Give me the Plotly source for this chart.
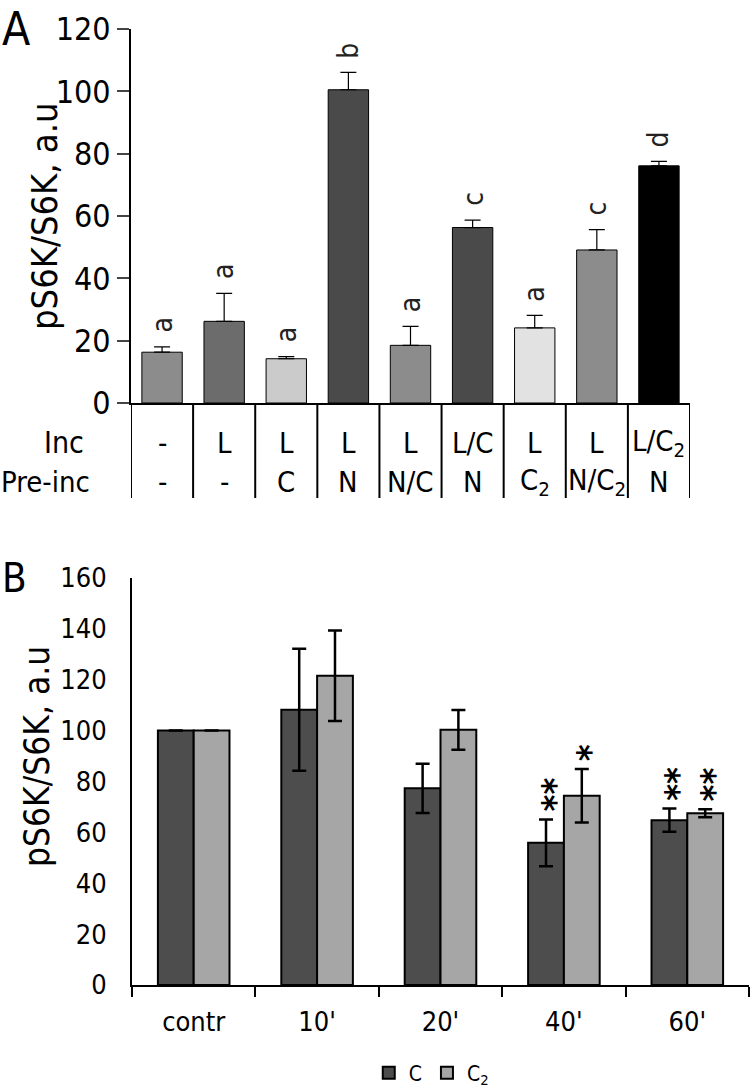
import plotly.graph_objects as go

# ---------- Panel A data ----------
a_inc = ["-", "L", "L", "L", "L", "L/C", "L", "L", "L/C<sub>2</sub>"]
a_pre = ["-", "-", "C", "N", "N/C", "N", "C<sub>2</sub>", "N/C<sub>2</sub>", "N"]
a_vals = [16.3, 26.2, 14.2, 100.5, 18.5, 56.3, 24.1, 49.1, 76.1]
a_err = [1.7, 9.0, 0.7, 5.6, 6.1, 2.4, 4.0, 6.5, 1.4]
a_letters = ["a", "a", "a", "b", "a", "c", "a", "c", "d"]
a_colors = ["#8c8c8c", "#6c6c6c", "#cbcbcb", "#4a4a4a", "#8c8c8c",
            "#4a4a4a", "#e2e2e2", "#8c8c8c", "#000000"]
a_yticks = [0, 20, 40, 60, 80, 100, 120]

# ---------- Panel B data ----------
b_cats = ["contr", "10'", "20'", "40'", "60'"]
b_c = [100, 108.2, 77.3, 55.9, 64.8]
b_c_err = [None, 24.0, 9.7, 9.2, 4.6]
b_c2 = [100, 121.6, 100.3, 74.4, 67.5]
b_c2_err = [None, 17.8, 7.8, 10.5, 1.6]
b_c_sig = ["", "", "", "**", "**"]
b_c2_sig = ["", "", "", "*", "**"]
b_yticks = [0, 20, 40, 60, 80, 100, 120, 140, 160]

FONT = "DejaVu Sans Condensed, DejaVu Sans, sans-serif"
W, H = 750, 1090


def py(px):
    return 1 - px / H


fig = go.Figure()

ax_idx = list(range(len(a_vals)))
fig.add_trace(go.Bar(
    x=ax_idx, y=a_vals, width=0.65,
    marker=dict(color=a_colors, line=dict(color="black", width=1)),
    error_y=dict(type="data", array=a_err, arrayminus=[0] * len(a_err),
                 symmetric=False, color="black", thickness=1.2, width=8),
    xaxis="x", yaxis="y", showlegend=False,
))

fig.add_trace(go.Bar(
    x=b_cats, y=b_c, name="C", width=0.29, offset=-0.29,
    marker=dict(color="#4d4d4d", line=dict(color="black", width=2)),
    error_y=dict(type="data", array=b_c_err, color="black", thickness=2.5, width=7),
    xaxis="x2", yaxis="y2",
))
fig.add_trace(go.Bar(
    x=b_cats, y=b_c2, name="C<sub>2</sub>", width=0.29, offset=0,
    marker=dict(color="#a6a6a6", line=dict(color="black", width=2)),
    error_y=dict(type="data", array=b_c2_err, color="black", thickness=2.5, width=7),
    xaxis="x2", yaxis="y2",
))

annotations = []
shapes = []

# letters above A bars
for i, (v, e, t) in enumerate(zip(a_vals, a_err, a_letters)):
    annotations.append(dict(x=i, y=v + e, xref="x", yref="y", text=t, showarrow=False,
                            textangle=-90, xanchor="center", yanchor="bottom", yshift=12,
                            font=dict(family=FONT, size=28, color="#222")))

# table under A
for i in range(len(a_vals) + 1):
    shapes.append(dict(type="line", xref="x", yref="paper", x0=i - 0.5, x1=i - 0.5,
                       y0=py(403), y1=py(498), line=dict(color="black", width=2)))
for i, (t1, t2) in enumerate(zip(a_inc, a_pre)):
    annotations.append(dict(x=i, y=py(443), xref="x", yref="paper", text=t1, showarrow=False,
                            xanchor="center", yanchor="middle",
                            font=dict(family=FONT, size=29, color="black")))
    annotations.append(dict(x=i, y=py(482), xref="x", yref="paper", text=t2, showarrow=False,
                            xanchor="center", yanchor="middle",
                            font=dict(family=FONT, size=29, color="black")))
annotations.append(dict(x=86 / W, y=py(443), xref="paper", yref="paper", text="Inc",
                        showarrow=False, xanchor="right", yanchor="middle",
                        font=dict(family=FONT, size=30, color="black")))
annotations.append(dict(x=92 / W, y=py(482), xref="paper", yref="paper", text="Pre-inc",
                        showarrow=False, xanchor="right", yanchor="middle",
                        font=dict(family=FONT, size=29, color="black")))

# significance stars in B
for i, (cat, v, e, s) in enumerate(zip(b_cats, b_c, b_c_err, b_c_sig)):
    if s:
        annotations.append(dict(x=i - 0.145, y=v + (e or 0), xref="x2", yref="y2",
                                text="<b>" + s + "</b>",
                                showarrow=False, textangle=-90, xanchor="center",
                                yanchor="bottom", yshift=6, xshift=8,
                                font=dict(family=FONT, size=36, color="black")))
for i, (cat, v, e, s) in enumerate(zip(b_cats, b_c2, b_c2_err, b_c2_sig)):
    if s:
        annotations.append(dict(x=i + 0.145, y=v + (e or 0), xref="x2", yref="y2",
                                text="<b>" + s + "</b>",
                                showarrow=False, textangle=-90, xanchor="center",
                                yanchor="bottom", yshift=6, xshift=8,
                                font=dict(family=FONT, size=36, color="black")))

# y titles and panel letters
annotations.append(dict(x=44 / W, y=py(216), xref="paper", yref="paper", text="pS6K/S6K, a.u",
                        showarrow=False, textangle=-90, xanchor="center", yanchor="middle",
                        font=dict(family=FONT, size=36, color="black")))
annotations.append(dict(x=37 / W, y=py(757), xref="paper", yref="paper", text="pS6K/S6K, a.u",
                        showarrow=False, textangle=-90, xanchor="center", yanchor="middle",
                        font=dict(family=FONT, size=35, color="black")))
annotations.append(dict(x=0, y=1, xref="paper", yref="paper", text="A", showarrow=False,
                        xanchor="left", yanchor="top",
                        font=dict(family=FONT, size=46, color="black")))
annotations.append(dict(x=0, y=py(553), xref="paper", yref="paper", text="B", showarrow=False,
                        xanchor="left", yanchor="top",
                        font=dict(family=FONT, size=40, color="black")))

fig.update_layout(
    width=W, height=H,
    margin=dict(l=0, r=0, t=0, b=0, autoexpand=False),
    paper_bgcolor="white", plot_bgcolor="white",
    font=dict(family=FONT, color="black"),
    xaxis=dict(domain=[131 / W, 690 / W], range=[-0.5, 8.5], showticklabels=False,
               showgrid=False, zeroline=False, showline=True, linecolor="black",
               linewidth=2, ticks="", anchor="y"),
    yaxis=dict(domain=[py(403), py(29)], range=[0, 120], tickvals=a_yticks,
               showgrid=False, zeroline=False, showline=True, linecolor="black",
               linewidth=2, ticks="outside", ticklen=12, tickwidth=2,
               tickfont=dict(family=FONT, size=32, color="black"), anchor="x"),
    xaxis2=dict(domain=[132 / W, 749 / W], range=[-0.5, 4.5], type="category",
                showgrid=False, zeroline=False, showline=True, linecolor="black",
                linewidth=2, ticks="outside", ticklen=10, tickwidth=2, tickcolor="black",
                tickson="boundaries", ticklabelstandoff=12,
                tickfont=dict(family=FONT, size=27, color="black"), anchor="y2"),
    yaxis2=dict(domain=[py(985), py(578)], range=[0, 160], tickvals=b_yticks,
                showgrid=False, zeroline=False, showline=True, linecolor="black",
                linewidth=2, ticks="", ticklabelstandoff=18,
                tickfont=dict(family=FONT, size=27, color="black"), anchor="x2"),
    legend=dict(orientation="h", x=0.575, xanchor="center", y=py(1073), yanchor="middle",
                font=dict(family=FONT, size=21, color="black"), itemwidth=30,
                tracegroupgap=0, bgcolor="rgba(0,0,0,0)"),
    annotations=annotations,
    shapes=shapes,
)

fig.write_html("out.html", config={"displayModeBar": False},
               post_script="document.body.style.margin='0';")
